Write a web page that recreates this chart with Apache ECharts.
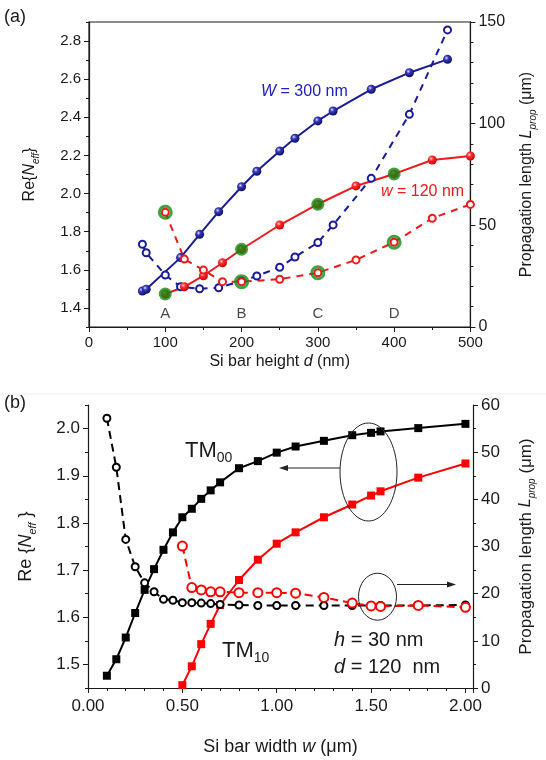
<!DOCTYPE html>
<html>
<head>
<meta charset="utf-8">
<script src="https://cdn.jsdelivr.net/npm/echarts@6/dist/echarts.min.js"></script>
<style>
  html, body { margin: 0; padding: 0; background: #fff; }
  #chart { width: 546px; height: 760px; }
</style>
</head>
<body>
<div id="chart"></div>
<script>
// ---- panel (a): Si bar height sweep ----
var heightW300 = [70, 75, 120, 145, 170, 200, 220, 250, 270, 300, 320, 370, 420, 470];
var neffW300 = [1.489, 1.498, 1.664, 1.786, 1.905, 2.036, 2.117, 2.223, 2.290, 2.381, 2.433, 2.547, 2.634, 2.704];
var heightW300L = [70, 75, 100, 120, 145, 170, 200, 220, 250, 270, 300, 320, 370, 420, 470];
var lpropW300 = [40.7, 36.5, 25.6, 19.8, 18.8, 19.3, 22.6, 25.1, 29.4, 34.4, 41.5, 50.2, 73.1, 104.6, 146.1];
var heightW120 = [100, 125, 150, 175, 200, 250, 300, 350, 400, 450, 500];
var neffW120 = [1.473, 1.511, 1.569, 1.637, 1.708, 1.835, 1.944, 2.040, 2.103, 2.176, 2.197];
var lpropW120 = [56.4, 33.4, 28.0, 22.3, 22.3, 23.5, 26.7, 33.0, 41.7, 53.5, 60.3];
var markedHeights = [100, 200, 300, 400];
var markedNames = ['A', 'B', 'C', 'D'];
var markLabelLevel = 1.37;
var ticksNeffA = [1.4, 1.6, 1.8, 2.0, 2.2, 2.4, 2.6, 2.8];
var minorNeffA = [1.3, 1.5, 1.7, 1.9, 2.1, 2.3, 2.5, 2.7, 2.9];

// ---- panel (b): Si bar width sweep ----
var widthTM00 = [0.10, 0.15, 0.20, 0.25, 0.30, 0.35, 0.40, 0.45, 0.50, 0.55, 0.60, 0.65, 0.70, 0.80, 0.90, 1.00, 1.10, 1.25, 1.40, 1.50, 1.55, 1.75, 2.00];
var neffTM00 = [1.476, 1.511, 1.557, 1.609, 1.658, 1.702, 1.743, 1.780, 1.812, 1.830, 1.851, 1.869, 1.886, 1.916, 1.931, 1.949, 1.962, 1.974, 1.986, 1.991, 1.994, 2.001, 2.010];
var lpropTM00 = [57.2, 46.8, 31.5, 25.7, 22.3, 20.4, 18.8, 18.6, 18.1, 18.1, 18.0, 17.9, 17.7, 17.6, 17.5, 17.5, 17.5, 17.5, 17.5, 17.5, 17.5, 17.5, 17.6];
var widthTM10 = [0.50, 0.55, 0.60, 0.65, 0.70, 0.80, 0.90, 1.00, 1.10, 1.25, 1.40, 1.50, 1.55, 1.75, 2.00];
var neffTM10 = [1.456, 1.496, 1.543, 1.586, 1.626, 1.679, 1.722, 1.756, 1.780, 1.812, 1.839, 1.858, 1.867, 1.896, 1.926];
var lpropTM10 = [30.1, 21.3, 20.8, 20.4, 20.4, 20.2, 20.2, 20.2, 20.1, 19.2, 18.0, 17.4, 17.3, 17.5, 17.1];
var ticksNeffB = [1.5, 1.6, 1.7, 1.8, 1.9, 2.0];
var minorNeffB = [1.45, 1.55, 1.65, 1.75, 1.85, 1.95, 2.05];

var FONT = '"Liberation Sans", Arial, sans-serif';
var INK = '#1a1a1a';
var BLUE = '#1a1a9c';
var RED = '#f01818';
var GREEN = '#138a13';

function zip(xs, ys) {
  return xs.map(function (x, i) { return [x, ys[i]]; });
}
function pick(xs, ys, wanted) {
  return wanted.map(function (w) { return [w, ys[xs.indexOf(w)]]; });
}
function ball(light, mid, dark) {
  return {
    type: 'radial', x: 0.38, y: 0.35, r: 0.65,
    colorStops: [{ offset: 0, color: light }, { offset: 0.35, color: mid }, { offset: 1, color: dark }]
  };
}

var nameRich = {
  i: { fontStyle: 'italic', fontFamily: FONT, fontSize: 16, color: INK, lineHeight: 22 },
  sub: { fontStyle: 'italic', fontFamily: FONT, fontSize: 10, color: INK, verticalAlign: 'bottom', lineHeight: 10 }
};
var nameRichB = {
  i: { fontStyle: 'italic', fontFamily: FONT, fontSize: 18, color: INK, lineHeight: 24 },
  sub: { fontStyle: 'italic', fontFamily: FONT, fontSize: 11, color: INK, verticalAlign: 'bottom', lineHeight: 11 }
};

function baseAxis(extra) {
  var ax = {
    type: 'value',
    axisLine: { show: true, lineStyle: { color: INK, width: 1.2 } },
    axisTick: { show: true, length: 5, lineStyle: { color: INK } },
    minorTick: { show: false },
    splitLine: { show: false },
    axisLabel: { color: INK, fontFamily: FONT, fontSize: 15 },
    nameTextStyle: { color: INK, fontFamily: FONT, fontSize: 16, lineHeight: 22 }
  };
  for (var k in extra) {
    if (typeof extra[k] === 'object' && ax[k] && !Array.isArray(extra[k])) {
      ax[k] = Object.assign({}, ax[k], extra[k]);
    } else {
      ax[k] = extra[k];
    }
  }
  return ax;
}

var myChart = echarts.init(document.getElementById('chart'));
var option = {
  backgroundColor: '#fff',
  animation: false,
  grid: [
    { left: 89, right: 72, top: 22, height: 305, show: true, borderColor: INK, borderWidth: 1.2 },
    { left: 88, right: 73, top: 405, height: 284 }
  ],
  xAxis: [
    baseAxis({
      gridIndex: 0, min: 0, max: 500, interval: 100,
      minorTick: { show: true, splitNumber: 2, length: 3, lineStyle: { color: INK } },
      name: 'Si bar height {i|d} (nm)', nameLocation: 'middle', nameGap: 23,
      nameTextStyle: { rich: nameRich }
    }),
    baseAxis({
      gridIndex: 1, min: 0, max: 2.04, interval: 0.5,
      minorTick: { show: true, splitNumber: 5, length: 3, lineStyle: { color: INK } },
      axisLabel: { fontSize: 17, showMaxLabel: false, margin: 10, formatter: function (v) { return v.toFixed(2); } },
      name: 'Si bar width {i|w} (μm)', nameLocation: 'middle', nameGap: 47,
      nameTextStyle: { fontSize: 18, rich: nameRichB }
    })
  ],
  yAxis: [
    baseAxis({
      gridIndex: 0, position: 'left', min: 1.3, max: 2.9,
      axisTick: { customValues: ticksNeffA },
      axisLabel: { customValues: ticksNeffA, formatter: function (v) { return v.toFixed(1); } },
      name: 'Re{{i|N}{sub|eff}}', nameLocation: 'middle', nameRotate: 90, nameGap: 48,
      nameTextStyle: { rich: nameRich }
    }),
    baseAxis({
      gridIndex: 0, position: 'right', min: 0, max: 150, interval: 50,
      minorTick: { show: true, splitNumber: 5, length: 3, lineStyle: { color: INK } },
      axisLabel: { fontSize: 16 },
      name: 'Propagation length {i|L}{sub|prop} (μm)', nameLocation: 'middle', nameRotate: 90, nameGap: 42,
      nameTextStyle: { rich: nameRich }
    }),
    baseAxis({
      gridIndex: 0, position: 'left', min: 1.3, max: 2.9,
      axisLine: { show: false },
      axisTick: { customValues: minorNeffA, length: 3 },
      axisLabel: { show: false }
    }),
    baseAxis({
      gridIndex: 1, position: 'left', min: 1.45, max: 2.05,
      axisTick: { customValues: ticksNeffB },
      axisLabel: { customValues: ticksNeffB, fontSize: 17, formatter: function (v) { return v.toFixed(1); } },
      name: 'Re {{i|N}{sub|eff} }', nameLocation: 'middle', nameRotate: 90, nameGap: 50,
      nameTextStyle: { fontSize: 18, rich: nameRichB }
    }),
    baseAxis({
      gridIndex: 1, position: 'right', min: 0, max: 60, interval: 10,
      minorTick: { show: true, splitNumber: 2, length: 3, lineStyle: { color: INK } },
      axisLabel: { fontSize: 17 },
      name: 'Propagation length {i|L}{sub|prop} (μm)', nameLocation: 'middle', nameRotate: 90, nameGap: 42,
      nameTextStyle: { fontSize: 17, rich: nameRich }
    }),
    baseAxis({
      gridIndex: 1, position: 'left', min: 1.45, max: 2.05,
      axisLine: { show: false },
      axisTick: { customValues: minorNeffB, length: 3 },
      axisLabel: { show: false }
    })
  ],
  series: [
    // (a) Re{Neff}, w = 300 nm
    {
      type: 'line', xAxisIndex: 0, yAxisIndex: 0, data: zip(heightW300, neffW300),
      symbol: 'circle', symbolSize: 9,
      itemStyle: { color: ball('#e0e0ff', '#3a3ab8', '#0c0c70') },
      lineStyle: { color: BLUE, width: 2 }
    },
    // (a) Lprop, w = 300 nm
    {
      type: 'line', xAxisIndex: 0, yAxisIndex: 1, data: zip(heightW300L, lpropW300),
      symbol: 'emptyCircle', symbolSize: 7,
      itemStyle: { color: BLUE, borderWidth: 2 },
      lineStyle: { color: BLUE, width: 2, type: [7, 6] }
    },
    // (a) Re{Neff}, w = 120 nm
    {
      type: 'line', xAxisIndex: 0, yAxisIndex: 0, data: zip(heightW120, neffW120),
      symbol: 'circle', symbolSize: 9,
      itemStyle: { color: ball('#ffe0e0', '#ff3030', '#d00000') },
      lineStyle: { color: RED, width: 2 }
    },
    // (a) Lprop, w = 120 nm
    {
      type: 'line', xAxisIndex: 0, yAxisIndex: 1, data: zip(heightW120, lpropW120),
      symbol: 'emptyCircle', symbolSize: 7,
      itemStyle: { color: RED, borderWidth: 2 },
      lineStyle: { color: RED, width: 2, type: [7, 6] }
    },
    // green marked points A-D
    {
      type: 'scatter', xAxisIndex: 0, yAxisIndex: 0, z: 4,
      data: pick(heightW120, neffW120, markedHeights),
      symbolSize: 13, itemStyle: { color: GREEN }
    },
    {
      type: 'scatter', xAxisIndex: 0, yAxisIndex: 1, z: 4,
      data: pick(heightW120, lpropW120, markedHeights),
      symbolSize: 12, itemStyle: { color: 'rgba(0,0,0,0)', borderColor: GREEN, borderWidth: 3 }
    },
    {
      type: 'scatter', xAxisIndex: 0, yAxisIndex: 0, silent: true,
      data: markedHeights.map(function (h) { return [h, markLabelLevel]; }),
      symbolSize: 0,
      label: {
        show: true, position: 'inside', color: INK, fontFamily: FONT, fontSize: 15,
        formatter: function (p) { return markedNames[p.dataIndex]; }
      }
    },
    // (b) Re{Neff}, TM00
    {
      type: 'line', xAxisIndex: 1, yAxisIndex: 3, data: zip(widthTM00, neffTM00),
      symbol: 'rect', symbolSize: 8,
      itemStyle: { color: '#000' }, lineStyle: { color: '#000', width: 2 }
    },
    // (b) Re{Neff}, TM10
    {
      type: 'line', xAxisIndex: 1, yAxisIndex: 3, data: zip(widthTM10, neffTM10),
      symbol: 'rect', symbolSize: 8,
      itemStyle: { color: '#ff0000' }, lineStyle: { color: '#ff0000', width: 2 }
    },
    // (b) Lprop, TM00
    {
      type: 'line', xAxisIndex: 1, yAxisIndex: 4, data: zip(widthTM00, lpropTM00),
      symbol: 'emptyCircle', symbolSize: 7,
      itemStyle: { color: '#000', borderWidth: 2 },
      lineStyle: { color: '#000', width: 2, type: [8, 5] }
    },
    // (b) Lprop, TM10
    {
      type: 'line', xAxisIndex: 1, yAxisIndex: 4, data: zip(widthTM10, lpropTM10),
      symbol: 'emptyCircle', symbolSize: 9,
      itemStyle: { color: '#ff0000', borderWidth: 2 },
      lineStyle: { color: '#ff0000', width: 2, type: [8, 5] }
    }
  ],
  graphic: [
    { type: 'line', shape: { x1: 0, y1: 394, x2: 546, y2: 394 }, style: { stroke: '#eeeeee', lineWidth: 1 } },
    { type: 'text', x: 4, y: 17, style: { text: '(a)', fontFamily: FONT, fontSize: 18, fill: INK, verticalAlign: 'middle' } },
    { type: 'text', x: 4, y: 403, style: { text: '(b)', fontFamily: FONT, fontSize: 18, fill: INK, verticalAlign: 'middle' } },
    {
      type: 'text', x: 261, y: 92, z: 10,
      style: {
        text: '{i|W} = 300 nm', fontFamily: FONT, fontSize: 16, fill: '#2020c0', verticalAlign: 'middle',
        rich: { i: { fontStyle: 'italic', fontFamily: FONT, fontSize: 16, fill: '#2020c0' } }
      }
    },
    {
      type: 'text', x: 381, y: 192, z: 10,
      style: {
        text: '{i|w} = 120 nm', fontFamily: FONT, fontSize: 16, fill: RED, verticalAlign: 'middle',
        rich: { i: { fontStyle: 'italic', fontFamily: FONT, fontSize: 16, fill: RED } }
      }
    },
    {
      type: 'text', x: 185, y: 451, z: 10,
      style: {
        text: '{m|TM}{s|00}', fill: INK, verticalAlign: 'middle',
        rich: {
          m: { fontFamily: FONT, fontSize: 22, lineHeight: 28, fill: INK },
          s: { fontFamily: FONT, fontSize: 14, lineHeight: 13, verticalAlign: 'bottom', fill: INK }
        }
      }
    },
    {
      type: 'text', x: 222, y: 651, z: 10,
      style: {
        text: '{m|TM}{s|10}', fill: INK, verticalAlign: 'middle',
        rich: {
          m: { fontFamily: FONT, fontSize: 22, lineHeight: 28, fill: INK },
          s: { fontFamily: FONT, fontSize: 14, lineHeight: 13, verticalAlign: 'bottom', fill: INK }
        }
      }
    },
    {
      type: 'text', x: 334, y: 640, z: 10,
      style: {
        text: '{i|h} = 30 nm', fontFamily: FONT, fontSize: 20, fill: INK, verticalAlign: 'middle',
        rich: { i: { fontStyle: 'italic', fontFamily: FONT, fontSize: 20, fill: INK } }
      }
    },
    {
      type: 'text', x: 334, y: 667, z: 10,
      style: {
        text: '{i|d} = 120  nm', fontFamily: FONT, fontSize: 20, fill: INK, verticalAlign: 'middle',
        rich: { i: { fontStyle: 'italic', fontFamily: FONT, fontSize: 20, fill: INK } }
      }
    },
    { type: 'ellipse', z: 10, shape: { cx: 368.5, cy: 472, rx: 28.5, ry: 49 }, style: { fill: 'none', stroke: '#222', lineWidth: 1 } },
    { type: 'line', z: 10, shape: { x1: 340, y1: 468, x2: 284, y2: 468 }, style: { stroke: '#222', lineWidth: 1 } },
    { type: 'polygon', z: 10, shape: { points: [[279, 468], [288, 465], [288, 471]] }, style: { fill: '#222' } },
    { type: 'ellipse', z: 10, shape: { cx: 377.5, cy: 596.7, rx: 19, ry: 23.5 }, style: { fill: 'none', stroke: '#222', lineWidth: 1 } },
    { type: 'line', z: 10, shape: { x1: 397, y1: 584.5, x2: 451, y2: 584.5 }, style: { stroke: '#222', lineWidth: 1 } },
    { type: 'polygon', z: 10, shape: { points: [[456, 584.5], [447, 581.5], [447, 587.5]] }, style: { fill: '#222' } }
  ]
};

myChart.setOption(option);
</script>
</body>
</html>
